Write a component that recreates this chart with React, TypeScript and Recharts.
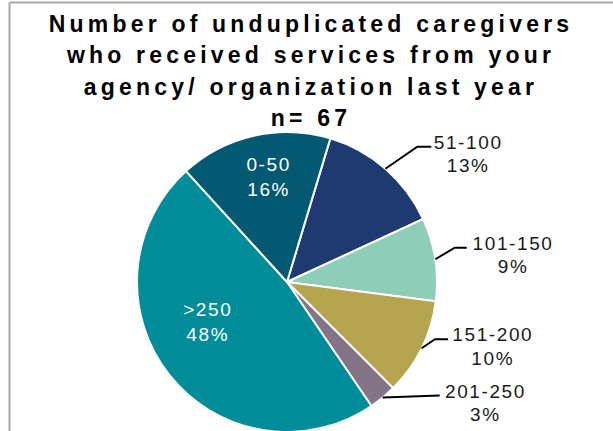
import React from 'react';
import { PieChart, Pie, Cell } from 'recharts';

const categories = ['51-100', '101-150', '151-200', '201-250', '>250', '0-50'];
const counts = [9, 6, 7, 2, 32, 11];
const colors = ['#1F3A70', '#8ECDB7', '#B4A54E', '#837487', '#008C99', '#035872'];
const titleLines = [
  'Number of unduplicated caregivers',
  'who received services from your',
  'agency/ organization last year',
  'n= 67',
];

// label layout (placement only)
const labelLayout: Record<string, any> = {
  '51-100': { kind: 'out', dx: 32, dy: -22, len: 14, tx: 36 },
  '101-150': { kind: 'out', dx: 19.5, dy: -11.5, len: 12, tx: 45.5 },
  '151-200': { kind: 'out', dx: 13.4, dy: -9, len: 13, tx: 44 },
  '201-250': { kind: 'out', dx: 57, dy: -2, len: 0, tx: 45 },
  '>250': { kind: 'in', rf: 0.596, da: -11.8 },
  '0-50': { kind: 'in', rf: 0.717, da: -2.5 },
};

const data = categories.map((name, i) => ({ name, value: counts[i] }));
const RAD = Math.PI / 180;
const FONT = '"Liberation Sans", Arial, sans-serif';

const renderLabel = (props: any) => {
  const { cx, cy, midAngle, outerRadius, percent, name } = props;
  const lay = labelLayout[name];
  const pct = `${Math.round(percent * 100)}%`;
  if (!lay) return null;
  if (lay.kind === 'in') {
    const a = (midAngle + lay.da) * RAD;
    const r = outerRadius * lay.rf;
    const x = cx + r * Math.cos(a);
    const y = cy - r * Math.sin(a);
    return (
      <g>
        <text x={x + 0.8} y={y - 5.5} textAnchor="middle" fill="#ffffff" fontSize={19} letterSpacing={1.6} fontFamily={FONT}>{name}</text>
        <text x={x + 0.8} y={y + 19.5} textAnchor="middle" fill="#ffffff" fontSize={19} letterSpacing={1.6} fontFamily={FONT}>{pct}</text>
      </g>
    );
  }
  const a = midAngle * RAD;
  const ex = cx + outerRadius * Math.cos(a);
  const ey = cy - outerRadius * Math.sin(a);
  const bx = ex + lay.dx;
  const by = ey + lay.dy;
  const endX = bx + lay.len;
  const tx = endX + lay.tx;
  return (
    <g>
      <polyline points={`${ex},${ey} ${bx},${by} ${endX},${by}`} fill="none" stroke="#000000" strokeWidth={2} />
      <text x={tx + 0.8} y={by + 2} textAnchor="middle" fill="#1a1a1a" fontSize={19} letterSpacing={1.6} fontFamily={FONT}>{name}</text>
      <text x={tx + 0.8} y={by + 25.5} textAnchor="middle" fill="#1a1a1a" fontSize={19} letterSpacing={1.6} fontFamily={FONT}>{pct}</text>
    </g>
  );
};

export default function App() {
  return (
    <div style={{ position: 'absolute', left: 0, top: 0, width: 613, height: 431, overflow: 'hidden', background: '#ffffff' }}>
      <div style={{ position: 'absolute', left: 0, top: 0 }}>
        <PieChart width={613} height={431} margin={{ top: 0, right: 0, bottom: 0, left: 0 }}>
          <Pie
            data={data}
            dataKey="value"
            nameKey="name"
            cx={287}
            cy={282}
            outerRadius={150}
            startAngle={73.2}
            endAngle={-286.8}
            stroke="#ffffff"
            strokeWidth={2}
            label={renderLabel}
            labelLine={false}
            isAnimationActive={false}
          >
            {data.map((d, i) => (
              <Cell key={d.name} fill={colors[i]} />
            ))}
          </Pie>
        </PieChart>
      </div>
      <svg width={613} height={431} style={{ position: 'absolute', left: 0, top: 0, pointerEvents: 'none' }}>
        <line x1={9.5} y1={2.5} x2={613} y2={2.5} stroke="#a8a8a8" strokeWidth={2} />
        <line x1={9.5} y1={2.5} x2={9.5} y2={431} stroke="#a8a8a8" strokeWidth={2} />
        {titleLines.map((t, i) => (
          <text
            key={i}
            x={311}
            y={31.7 + i * 31.5}
            textAnchor="middle"
            fontSize={23}
            fontWeight="bold"
            letterSpacing={4.2}
            fill="#000000"
            fontFamily={FONT}
          >
            {t}
          </text>
        ))}
      </svg>
    </div>
  );
}
